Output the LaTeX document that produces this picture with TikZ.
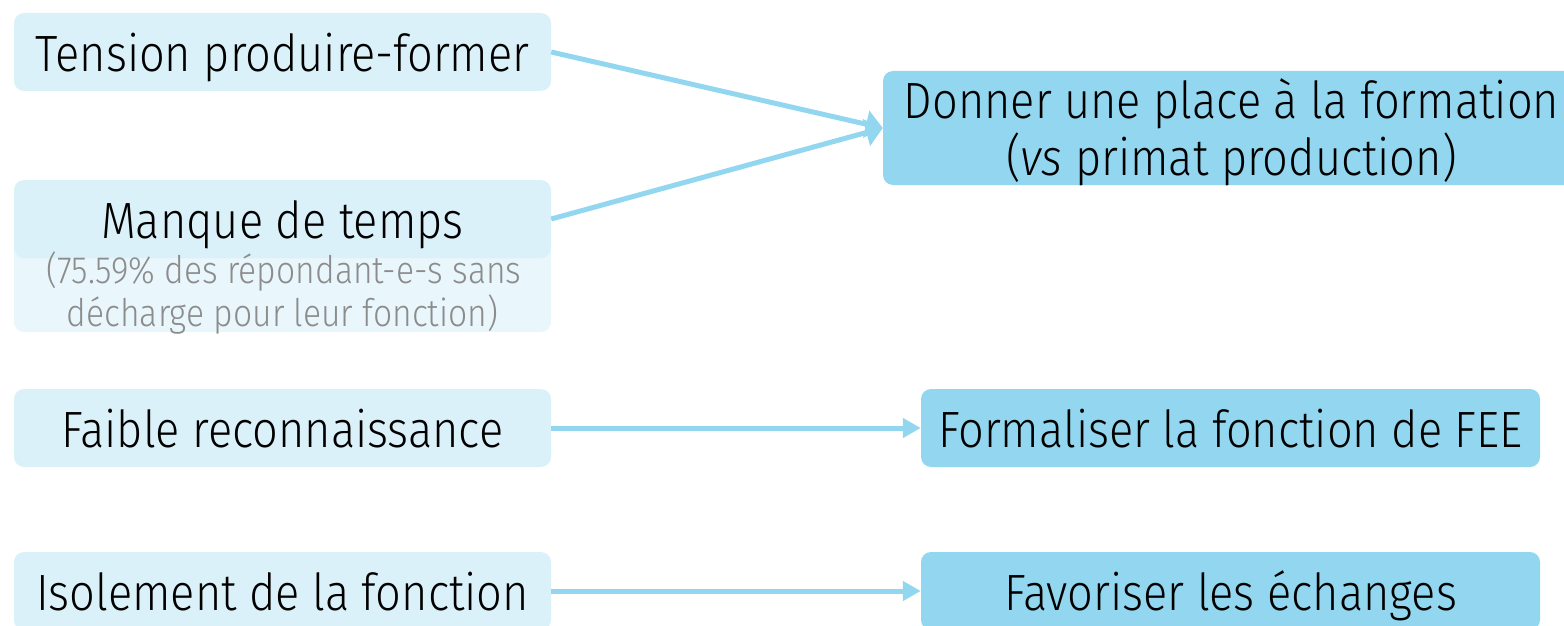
\documentclass[tikz,border=0pt]{standalone}
\usepackage{fontspec}
\setmainfont{Fira Sans}[UprightFont=* Light, ItalicFont=* Light Italic, FakeStretch=0.885]
\usetikzlibrary{arrows.meta}
\definecolor{causefill}{HTML}{DAF1F9}
\definecolor{notefill}{HTML}{E9F6FC}
\definecolor{actionfill}{HTML}{92D7EF}
\definecolor{notetext}{HTML}{8C8C8C}
\begin{document}
\begin{tikzpicture}[x=1pt,y=-1pt,
  box/.style={rounded corners=10pt, inner sep=0pt, minimum height=78pt,
    text height=39pt, text depth=0pt, font=\fontsize{51}{57}\selectfont},
  cause/.style={box, fill=causefill, minimum width=537pt},
  action/.style={box, fill=actionfill, minimum width=619pt},
  linktext/.style={anchor=base, inner sep=0pt, font=\fontsize{51}{57}\selectfont},
  notelabel/.style={anchor=base, inner sep=0pt, text=notetext, font=\fontsize{38}{44}\selectfont},
  wide/.style={line width=5pt, draw=actionfill, -{Triangle[length=17pt,width=27pt]}},
  flat/.style={line width=5pt, draw=actionfill, -{Triangle[length=18pt,width=19pt]}}]
\useasboundingbox (0,0) rectangle (1564,626);
\clip (0,0) rectangle (1564,626);

% causes (left column)
\node[cause] (tension) at (282.5,52) {Tension produire-former};
\node[rounded corners=10pt, fill=notefill, minimum width=537pt, minimum height=92pt, inner sep=0pt] (noteb) at (282.5,286) {};
\node[cause] (temps) at (282.5,219) {Manque de temps};
\node[notelabel] (note1) at (284,283) {(75.59\% des répondant-e-s sans};
\node[notelabel] (note2) at (282.5,326) {décharge pour leur fonction)};
\node[cause] (reco) at (282.5,428) {Faible reconnaissance};
\node[cause] (isol) at (282.5,591) {Isolement de la fonction};

% actions (right column)
\node[box, fill=actionfill, minimum width=697pt, minimum height=114pt] (place) at (1231.5,128) {};
\node[linktext] (place1) at (1231.5,118) {Donner une place à la formation};
\node[linktext] (place2) at (1231.5,175) {(\textit{vs} primat production)};
\node[action] (formal) at (1230.5,428) {Formaliser la fonction de FEE};
\node[action] (echange) at (1230.5,591) {Favoriser les échanges};

% links
\draw[wide] (tension.east) -- (place.west);
\draw[wide] (temps.east) -- (place.west);
\draw[flat] (reco.east) -- (formal.west);
\draw[flat] (isol.east) -- (echange.west);
\end{tikzpicture}
\end{document}
